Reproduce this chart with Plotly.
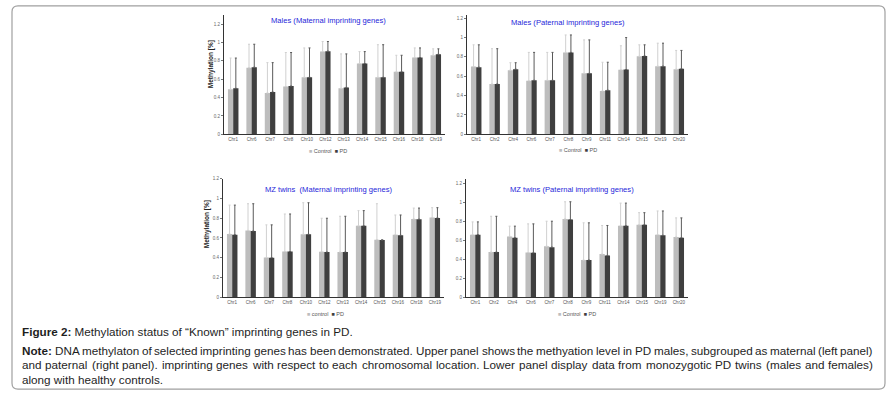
import plotly.graph_objects as go

# ---------------- data ----------------
mat_cats = ["Chr1", "Chr6", "Chr7", "Chr8", "Chr10", "Chr12", "Chr13", "Chr14", "Chr15", "Chr16", "Chr18", "Chr19"]
pat_cats = ["Chr1", "Chr2", "Chr4", "Chr6", "Chr7", "Chr8", "Chr9", "Chr11", "Chr14", "Chr15", "Chr19", "Chr20"]

males_mat_control = [0.49, 0.725, 0.45, 0.52, 0.62, 0.90, 0.50, 0.77, 0.62, 0.68, 0.835, 0.86]
males_mat_pd      = [0.50, 0.73, 0.46, 0.525, 0.62, 0.905, 0.51, 0.77, 0.62, 0.68, 0.835, 0.87]
males_mat_err_c   = [0.83, 0.98, 0.78, 0.89, 0.94, 1.01, 0.875, 0.90, 0.975, 0.86, 0.94, 0.93]
males_mat_err_pd  = [0.83, 0.98, 0.78, 0.89, 0.94, 1.01, 0.875, 0.90, 0.975, 0.86, 0.94, 0.93]

males_pat_control = [0.70, 0.52, 0.663, 0.554, 0.558, 0.847, 0.63, 0.449, 0.667, 0.806, 0.704, 0.673]
males_pat_pd      = [0.694, 0.52, 0.673, 0.558, 0.558, 0.847, 0.63, 0.456, 0.67, 0.81, 0.704, 0.677]
males_pat_err_c   = [0.925, 0.885, 0.74, 0.847, 0.847, 1.027, 0.976, 0.745, 0.915, 0.925, 0.942, 0.867]
males_pat_err_pd  = [0.925, 0.885, 0.74, 0.847, 0.847, 1.027, 0.976, 0.745, 1.0, 0.925, 0.942, 0.867]

mz_mat_control = [0.64, 0.677, 0.403, 0.463, 0.637, 0.46, 0.457, 0.723, 0.583, 0.633, 0.793, 0.807]
mz_mat_pd      = [0.633, 0.67, 0.40, 0.463, 0.637, 0.457, 0.457, 0.723, 0.58, 0.627, 0.79, 0.803]
mz_mat_err_c   = [0.933, 0.947, 0.733, 0.843, 0.957, 0.80, 0.82, 0.877, 0.947, 0.833, 0.903, 0.907]
mz_mat_err_pd  = [0.933, 0.947, 0.733, 0.843, 0.957, 0.80, 0.82, 0.877, 0.58, 0.833, 0.903, 0.907]

mz_pat_control = [0.66, 0.476, 0.642, 0.472, 0.538, 0.826, 0.392, 0.455, 0.753, 0.764, 0.66, 0.635]
mz_pat_pd      = [0.66, 0.476, 0.628, 0.469, 0.528, 0.82, 0.392, 0.441, 0.753, 0.764, 0.653, 0.628]
mz_pat_err_c   = [0.795, 0.854, 0.75, 0.774, 0.802, 1.007, 0.785, 0.757, 0.993, 0.892, 0.91, 0.837]
mz_pat_err_pd  = [0.795, 0.854, 0.75, 0.774, 0.802, 1.007, 0.785, 0.757, 0.993, 0.892, 0.91, 0.837]

y_tick_vals = [0, 0.2, 0.4, 0.6, 0.8, 1, 1.2]
y_tick_text = ["0", "0.2", "0.4", "0.6", "0.8", "1", "1.2"]

panel_titles = ["Males (Maternal imprinting genes)", "Males (Paternal imprinting genes)",
                "MZ twins  (Maternal imprinting genes)", "MZ twins (Paternal imprinting genes)"]
legend_texts = ["Control", "Control", "control", "Control"]
series_names = ["Control", "PD"]
y_title = "Methylation [%]"
caption_bold = "Figure 2:"
caption_rest = " Methylation status of “Known” imprinting genes in PD."
note_bold = "Note:"
note_lines = [
    "DNA methylaton of selected imprinting genes has been demonstrated. Upper panel shows the methyation level in PD males, subgrouped as maternal (left panel)",
    "and paternal (right panel). imprinting genes with respect to each chromosomal location. Lower panel display data from monozygotic PD twins (males and females)",
    "along with healthy controls.",
]

# ---------------- layout helpers ----------------
W, H = 896, 397
def px(x):
    return x / W
def py(y):
    return 1 - y / H

# approximate Arial / Liberation Sans advance widths (per 1000 em)
_REG = {" ": 278, "a": 556, "b": 556, "c": 500, "d": 556, "e": 556, "f": 278, "g": 556, "h": 556, "i": 222,
        "j": 222, "k": 500, "l": 222, "m": 833, "n": 556, "o": 556, "p": 556, "q": 556, "r": 333, "s": 500,
        "t": 278, "u": 556, "v": 500, "w": 722, "x": 500, "y": 500, "z": 500, "A": 667, "D": 722, "L": 556,
        "N": 722, "P": 667, "U": 722, "K": 667, "M": 833, ".": 278, ",": 278, "(": 333, ")": 333, ":": 278,
        "“": 333, "”": 333}
_BOLD = {"N": 722, "o": 611, "t": 333, "e": 556, ":": 333, "F": 611, "i": 278, "g": 611, "u": 611,
         "r": 389, " ": 278, "2": 556}
def text_w(s, size, bold=False):
    tab = _BOLD if bold else _REG
    return sum(tab.get(ch, 556) for ch in s) * size / 1000.0

C_COLOR = "#bdbdbd"
P_COLOR = "#3f3f3f"
C_ERR = "#d0d0d0"
P_ERR = "#5a5a5a"
TITLE_BLUE = "#2626d9"
TXT = "#1e1e1e"
CAP_FONT = 11.7

panels = [
    dict(cats=mat_cats, c=males_mat_control, p=males_mat_pd, ec=males_mat_err_c, ep=males_mat_err_pd,
         x0=224, x1=445, y0=13, y1=134, ymax=1.30, title_xy=(328, 19), leg_xy=(328, 151), ytitle=(211, 63)),
    dict(cats=pat_cats, c=males_pat_control, p=males_pat_pd, ec=males_pat_err_c, ep=males_pat_err_pd,
         x0=467, x1=688, y0=13, y1=134, ymax=1.235, title_xy=(568, 21), leg_xy=(578, 150), ytitle=None),
    dict(cats=mat_cats, c=mz_mat_control, p=mz_mat_pd, ec=mz_mat_err_c, ep=mz_mat_err_pd,
         x0=223, x1=444, y0=179, y1=299, ymax=1.20, title_xy=(328, 190), leg_xy=(325, 316), ytitle=(207, 225)),
    dict(cats=pat_cats, c=mz_pat_control, p=mz_pat_pd, ec=mz_pat_err_c, ep=mz_pat_err_pd,
         x0=466, x1=688, y0=179, y1=299, ymax=1.25, title_xy=(572, 190), leg_xy=(577, 316), ytitle=None),
]

fig = go.Figure()
annotations = []
layout_axes = {}

for i, pn in enumerate(panels):
    k = "" if i == 0 else str(i + 1)
    xa, ya = "x" + k, "y" + k
    for name, vals, errs, col, ecol in [
        (series_names[0], pn["c"], pn["ec"], C_COLOR, C_ERR),
        (series_names[1], pn["p"], pn["ep"], P_COLOR, P_ERR),
    ]:
        plus = [max(e - v, 0) for e, v in zip(errs, vals)]
        fig.add_trace(go.Bar(
            x=pn["cats"], y=vals, name=name, xaxis=xa, yaxis=ya,
            marker=dict(color=col, line=dict(width=0)),
            error_y=dict(type="data", symmetric=False, array=plus, arrayminus=[0] * len(vals),
                         color=ecol, thickness=1, width=1),
            showlegend=False,
        ))
    layout_axes["xaxis" + k] = dict(
        domain=[px(pn["x0"]), px(pn["x1"])], anchor=ya,
        showline=True, linecolor="#333333", linewidth=1,
        ticks="", tickfont=dict(size=4.5, color="#555555", family="Liberation Sans"),
        tickangle=0, showgrid=False, zeroline=False, fixedrange=True,
    )
    layout_axes["yaxis" + k] = dict(
        domain=[py(pn["y1"]), py(pn["y0"])], anchor=xa, range=[0, pn["ymax"]],
        showline=True, linecolor="#333333", linewidth=1,
        ticks="outside", ticklen=2, tickcolor="#777777",
        tickvals=y_tick_vals, ticktext=y_tick_text,
        tickfont=dict(size=4.5, color="#666666", family="Liberation Sans"),
        showgrid=False, zeroline=False, fixedrange=True,
    )
    tx, ty = pn["title_xy"]
    annotations.append(dict(text=panel_titles[i], x=px(tx), y=py(ty), xref="paper", yref="paper",
                            showarrow=False, xanchor="center", yanchor="middle",
                            font=dict(size=7.6, color=TITLE_BLUE, family="Liberation Sans")))
    lx, ly = pn["leg_xy"]
    leg = (f"<span style='color:{C_COLOR}'>■</span> {legend_texts[i]}  "
           f"<span style='color:{P_COLOR}'>■</span> {series_names[1]}")
    annotations.append(dict(text=leg, x=px(lx), y=py(ly), xref="paper", yref="paper",
                            showarrow=False, xanchor="center", yanchor="middle",
                            font=dict(size=5.5, color="#555555", family="Liberation Sans")))
    if pn["ytitle"]:
        yx, yy = pn["ytitle"]
        annotations.append(dict(text=f"<b>{y_title}</b>", x=px(yx), y=py(yy), xref="paper", yref="paper",
                                showarrow=False, textangle=-90, xanchor="center", yanchor="middle",
                                font=dict(size=6.5, color="#222222", family="Liberation Sans")))

# ---------------- caption ----------------
def cap_ann(text, x, y):
    return dict(text=text, x=px(x), y=py(y), xref="paper", yref="paper", showarrow=False,
                xanchor="left", yanchor="middle", borderpad=0,
                font=dict(size=CAP_FONT, color=TXT, family="Liberation Sans"))

annotations.append(cap_ann(f"<b>{caption_bold}</b>{caption_rest}", 21, 334))

LEFT, RIGHT = 21, 872
line_ys = [353, 367, 382]
for j, (line, yy) in enumerate(zip(note_lines, line_ys)):
    words = line.split(" ")
    items = []  # (text, width)
    if j == 0:
        items.append((f"<b>{note_bold}</b>", text_w(note_bold, CAP_FONT, bold=True)))
    for wd in words:
        items.append((wd, text_w(wd, CAP_FONT)))
    if j == len(note_lines) - 1:
        annotations.append(cap_ann(" ".join(t for t, _ in items), LEFT, yy))
        continue
    total = sum(w for _, w in items)
    gap = (RIGHT - LEFT - total) / (len(items) - 1)
    xpos = LEFT
    for t, w in items:
        annotations.append(cap_ann(t, xpos, yy))
        xpos += w + gap

# rounded frame
x0, x1, y0, y1, r = 12, 885, 4, 392, 6
path = (f"M {px(x0 + r)},{py(y0)} L {px(x1 - r)},{py(y0)} Q {px(x1)},{py(y0)} {px(x1)},{py(y0 + r)} "
        f"L {px(x1)},{py(y1 - r)} Q {px(x1)},{py(y1)} {px(x1 - r)},{py(y1)} "
        f"L {px(x0 + r)},{py(y1)} Q {px(x0)},{py(y1)} {px(x0)},{py(y1 - r)} "
        f"L {px(x0)},{py(y0 + r)} Q {px(x0)},{py(y0)} {px(x0 + r)},{py(y0)} Z")

fig.update_layout(
    width=W, height=H, autosize=False,
    margin=dict(l=0, r=0, t=0, b=0),
    paper_bgcolor="white", plot_bgcolor="white",
    barmode="group", bargap=0.43, bargroupgap=0,
    annotations=annotations,
    shapes=[dict(type="path", path=path, xref="paper", yref="paper",
                 line=dict(color="#a0a0a0", width=1.2), layer="below")],
    font=dict(family="Liberation Sans"),
    **layout_axes,
)

fig.write_html("out.html", config={"displayModeBar": False, "staticPlot": True},
               post_script="document.body.style.margin='0';document.body.style.overflow='hidden';")
